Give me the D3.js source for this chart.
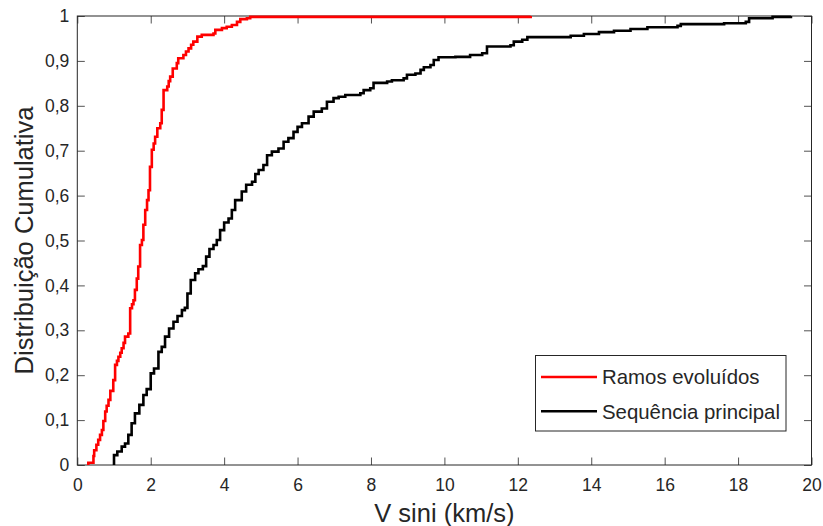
<!DOCTYPE html>
<html>
<head>
<meta charset="utf-8">
<script src="https://cdn.jsdelivr.net/npm/d3@7"></script>
<style>
  html, body { margin: 0; padding: 0; background: #fff; }
  svg { display: block; }
  text { font-family: "Liberation Sans", Arial, Helvetica, sans-serif; fill: #262626; }
</style>
</head>
<body>
<svg id="chart" width="823" height="526"></svg>
<script>
// Empirical cumulative distributions of V sini: [velocity (km/s), cumulative fraction]
const ramosEvoluidos = [
  [0.30, 0], [0.30, 0.005], [0.44, 0.020], [0.46, 0.033], [0.52, 0.045], [0.57, 0.056],
  [0.62, 0.067], [0.67, 0.078], [0.71, 0.098], [0.76, 0.119], [0.80, 0.132], [0.85, 0.145],
  [0.90, 0.165], [0.98, 0.189], [1.03, 0.223], [1.08, 0.232], [1.12, 0.241], [1.17, 0.250],
  [1.21, 0.260], [1.26, 0.272], [1.30, 0.286], [1.39, 0.293], [1.44, 0.349], [1.49, 0.358],
  [1.53, 0.367], [1.57, 0.390], [1.62, 0.415], [1.66, 0.442], [1.71, 0.490], [1.76, 0.501],
  [1.80, 0.535], [1.85, 0.568], [1.90, 0.590], [1.94, 0.612], [1.98, 0.664], [2.03, 0.702],
  [2.08, 0.716], [2.12, 0.731], [2.18, 0.750], [2.26, 0.761], [2.30, 0.791], [2.35, 0.835],
  [2.45, 0.843], [2.49, 0.855], [2.53, 0.865], [2.60, 0.883], [2.71, 0.895], [2.75, 0.906],
  [2.89, 0.913], [2.96, 0.921], [3.03, 0.928], [3.10, 0.936], [3.16, 0.943], [3.27, 0.954],
  [3.39, 0.958], [3.71, 0.961], [3.76, 0.969], [3.94, 0.973], [4.07, 0.976], [4.21, 0.980],
  [4.35, 0.987], [4.44, 0.993], [4.62, 0.995], [4.71, 0.998], [12.35, 1.0]
];

const sequenciaPrincipal = [
  [1.00, 0], [1.00, 0.022], [1.09, 0.030], [1.21, 0.041], [1.30, 0.048], [1.39, 0.067],
  [1.48, 0.093], [1.57, 0.115], [1.69, 0.134], [1.80, 0.156], [1.89, 0.169], [2.00, 0.204],
  [2.09, 0.215], [2.21, 0.252], [2.30, 0.263], [2.39, 0.286], [2.50, 0.304], [2.62, 0.319],
  [2.73, 0.332], [2.85, 0.345], [2.93, 0.350], [3.00, 0.382], [3.09, 0.412], [3.21, 0.427],
  [3.30, 0.436], [3.42, 0.443], [3.51, 0.464], [3.60, 0.481], [3.71, 0.490], [3.80, 0.501],
  [3.89, 0.523], [4.00, 0.540], [4.12, 0.549], [4.21, 0.568], [4.30, 0.590], [4.48, 0.609],
  [4.60, 0.624], [4.76, 0.631], [4.85, 0.648], [4.94, 0.657], [5.07, 0.668], [5.17, 0.690],
  [5.30, 0.698], [5.48, 0.705], [5.62, 0.720], [5.75, 0.728], [5.89, 0.742], [6.00, 0.753],
  [6.12, 0.761], [6.30, 0.776], [6.44, 0.787], [6.66, 0.794], [6.80, 0.809], [6.98, 0.817],
  [7.12, 0.820], [7.30, 0.824], [7.71, 0.828], [7.80, 0.835], [7.98, 0.839], [8.07, 0.851],
  [8.44, 0.854], [8.57, 0.857], [8.89, 0.861], [8.98, 0.869], [9.21, 0.872], [9.35, 0.880],
  [9.44, 0.886], [9.62, 0.891], [9.71, 0.902], [9.84, 0.908], [10.30, 0.909], [10.70, 0.913],
  [11.03, 0.917], [11.16, 0.932], [11.80, 0.935], [11.89, 0.943], [12.12, 0.947], [12.26, 0.953],
  [13.44, 0.956], [13.80, 0.960], [14.21, 0.964], [14.62, 0.967], [15.07, 0.971], [15.53, 0.975],
  [16.35, 0.978], [16.44, 0.982], [17.62, 0.984], [18.21, 0.987], [18.30, 0.995], [18.94, 0.998],
  [19.44, 1.0]
];

const seriesNames = ["Ramos evoluídos", "Sequência principal"];
const seriesColors = ["#ff0000", "#000000"];
const xTicks = [0, 2, 4, 6, 8, 10, 12, 14, 16, 18, 20];
const yTicks = [0, 0.1, 0.2, 0.3, 0.4, 0.5, 0.6, 0.7, 0.8, 0.9, 1];
const xLabel = "V sini (km/s)";
const yLabel = "Distribuição Cumulativa";

const svg = d3.select("#chart");
const plotL = 77.3, plotR = 811.5, plotT = 16, plotB = 465;
const axisColor = "#262626";
const lineWidth = 2.6;

const x = d3.scaleLinear().domain([0, 20]).range([plotL, plotR]);
const y = d3.scaleLinear().domain([0, 1]).range([plotB, plotT]);

svg.append("rect").attr("width", 823).attr("height", 526).attr("fill", "#fff");

const fmtY = d => d === 0 ? "0" : d === 1 ? "1" : d3.format(".1f")(d).replace(".", ",");
const tickLen = 7.5;

// bottom axis with inward ticks
const gx = svg.append("g").attr("transform", `translate(0,${plotB})`)
  .call(d3.axisBottom(x).tickValues(xTicks).tickFormat(d3.format("d"))
    .tickSizeInner(-tickLen).tickSizeOuter(0).tickPadding(14));
// top axis ticks (no labels)
const gxt = svg.append("g").attr("transform", `translate(0,${plotT})`)
  .call(d3.axisTop(x).tickValues(xTicks).tickFormat("")
    .tickSizeInner(-tickLen).tickSizeOuter(0));
// left axis
const gy = svg.append("g").attr("transform", `translate(${plotL},0)`)
  .call(d3.axisLeft(y).tickValues(yTicks).tickFormat(fmtY)
    .tickSizeInner(-tickLen).tickSizeOuter(0).tickPadding(8));
// right axis ticks (no labels)
const gyr = svg.append("g").attr("transform", `translate(${plotR},0)`)
  .call(d3.axisRight(y).tickValues(yTicks).tickFormat("")
    .tickSizeInner(-tickLen).tickSizeOuter(0));

[gx, gxt, gy, gyr].forEach(g => {
  g.select(".domain").remove();
  g.selectAll(".tick line").attr("stroke", axisColor).attr("stroke-width", 0.8);
  g.selectAll(".tick text").attr("fill", axisColor)
    .style("font-family", '"Liberation Sans", Arial, Helvetica, sans-serif')
    .style("font-size", "17.5px");
});

// axes box
svg.append("rect")
  .attr("x", plotL).attr("y", plotT)
  .attr("width", plotR - plotL).attr("height", plotB - plotT)
  .attr("fill", "none").attr("stroke", axisColor).attr("stroke-width", 1);

// axis titles
svg.append("text")
  .attr("x", (plotL + plotR) / 2).attr("y", 522)
  .attr("text-anchor", "middle")
  .style("font-size", "25.5px")
  .text(xLabel);

svg.append("text")
  .attr("transform", `translate(33,${(plotT + plotB) / 2}) rotate(-90)`)
  .attr("text-anchor", "middle")
  .style("font-size", "25.5px")
  .text(yLabel);

// staircase ECDF lines
const line = d3.line()
  .x(d => x(d[0]))
  .y(d => y(d[1]))
  .curve(d3.curveStepAfter);

[ramosEvoluidos, sequenciaPrincipal].forEach((data, i) => {
  svg.append("path")
    .datum(data)
    .attr("d", line)
    .attr("fill", "none")
    .attr("stroke", seriesColors[i])
    .attr("stroke-width", lineWidth)
    .attr("stroke-linejoin", "miter");
});

// legend
const lg = svg.append("g");
lg.append("rect")
  .attr("x", 535.5).attr("y", 355.5).attr("width", 250.5).attr("height", 75.5)
  .attr("fill", "#fff").attr("stroke", axisColor).attr("stroke-width", 1);
seriesNames.forEach((name, i) => {
  const yy = 377 + i * 34.3;
  lg.append("line")
    .attr("x1", 541).attr("x2", 597).attr("y1", yy).attr("y2", yy)
    .attr("stroke", seriesColors[i]).attr("stroke-width", lineWidth);
  lg.append("text")
    .attr("x", 602).attr("y", yy).attr("dy", "0.36em")
    .style("font-size", "20.4px")
    .text(name);
});
</script>
</body>
</html>
